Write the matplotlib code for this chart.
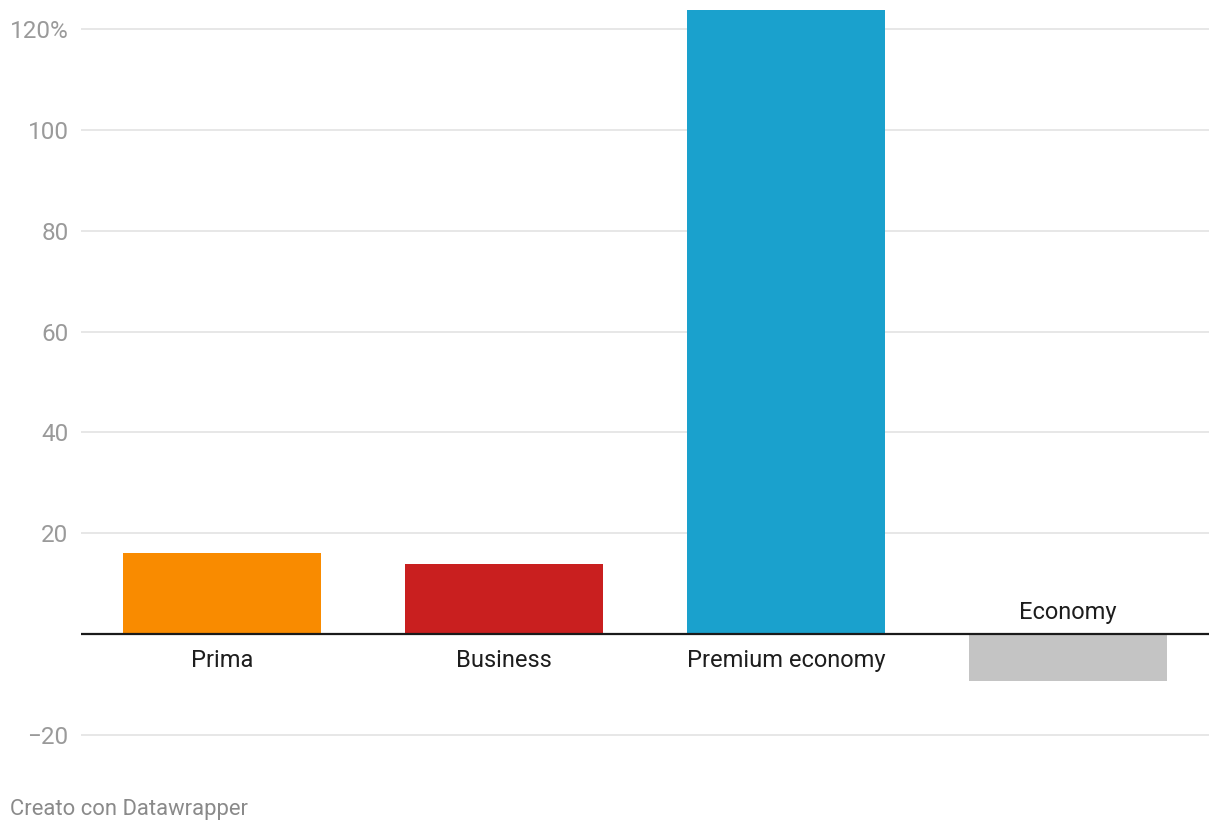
import matplotlib
matplotlib.use("Agg")
import matplotlib.pyplot as plt

categories = ["Prima", "Business", "Premium economy", "Economy"]
values = [16.0, 13.8, 123.8, -9.3]
colors = ["#f98b00", "#c91f1f", "#1aa1cd", "#c4c4c4"]
yticks = [-20, 20, 40, 60, 80, 100, 120]
ytick_labels = ["−20", "20", "40", "60", "80", "100", "120%"]

plt.rcParams['font.family'] = ['Roboto', 'DejaVu Sans']

fig = plt.figure(figsize=(12.2, 8.32), dpi=100)
ax = fig.add_axes([81/1220, (832-760)/832, (1209-81)/1220, (760-8)/832])

x = list(range(len(categories)))
ax.bar(x, values, width=0.70, color=colors, zorder=2)

ax.set_xlim(-0.5, 3.5)
ax.set_ylim(-25, 124.2)

for t in yticks:
    ax.axhline(t, color="#e3e3e3", lw=1.2, zorder=1)
ax.axhline(0, color="#1a1a1a", lw=1.6, zorder=3)

ax.set_yticks(yticks)
ax.set_yticklabels(ytick_labels)
ax.tick_params(axis='y', length=0, pad=9, labelsize=17.5, labelcolor="#9a9a9a")
ax.set_xticks([])
for s in ax.spines.values():
    s.set_visible(False)

for xi, (c, v) in enumerate(zip(categories, values)):
    if v >= 0:
        ax.annotate(c, (xi, 0), xytext=(0, -27), textcoords="offset pixels",
                    ha="center", va="center", fontsize=17, color="#1d1d1d")
    else:
        ax.annotate(c, (xi, 0), xytext=(0, 21), textcoords="offset pixels",
                    ha="center", va="center", fontsize=17, color="#1d1d1d")

fig.text(10/1220, 1 - 809/832, "Creato con Datawrapper", ha="left", va="center",
         fontsize=15.8, color="#8a8a8a")

fig.savefig("out.png", dpi=100)
